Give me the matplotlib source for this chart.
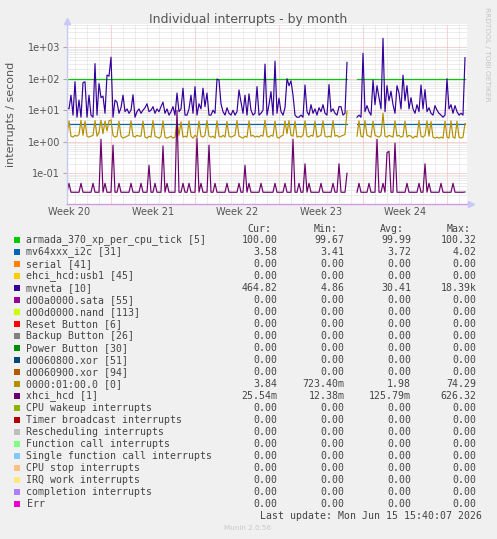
import numpy as np
import matplotlib
matplotlib.use("Agg")
import matplotlib.pyplot as plt
from matplotlib.ticker import FixedLocator, NullFormatter, LogLocator
from matplotlib.patches import Rectangle

nan = np.nan

# ---------------- data (4-hour samples, 6 per day) ----------------
samples_per_day = 6

armada_level = 100.0       # armada_370_xp_per_cpu_tick [5]
i2c_level = 3.58           # mv64xxx_i2c [31]

mvneta = [
    12, 11, 30, 7, 80, 6, 21, 6, 75, 80, 6, 30,
    7, 6, 300, 7, 70, 25, 28, 8, 130, 120, 480, 6,
    21, 18, 8, 12, 30, 9, 11, 8, 10, 31, 6, 9,
    11, 8, 10, 12, 16, 9, 10, 13, 8, 11, 9, 13,
    18, 8, 11, 7, 9, 13, 7, 35, 9, 11, 50, 7,
    7, 11, 30, 8, 56, 7, 16, 11, 50, 13, 35, 7,
    7, 10, 8, 98, 90, 16, 9, 7, 12, 8, 7, 10,
    7, 9, 44, 18, 8, 30, 7, 33, 10, 7, 8, 56,
    7, 8, 10, 290, 7, 15, 39, 7, 360, 8, 24, 9,
    7, 12, 100, 60, 85, 30, 7, 6, 6, 7, 6, 63,
    9, 7, 15, 8, 11, 7, 12, 9, 15, 8, 7, 65,
    9, 11, 8, 7, 13, 13, 7, 8, 330, nan, nan, nan,
    nan, 6, 7, 6, 640, 9, 14, 9, 7, 90, 15, 60,
    25, 11, 1900, 9, 60, 20, 40, 15, 8, 60, 35, 11,
    130, 20, 60, 11, 25, 11, 8, 15, 9, 63, 11, 45,
    9, 12, 8, 7, 14, 10, 8, 7, 6, 7, 100, 11,
    15, 8, 14, 9, 7, 8, 7, 465,
]

pci0 = [
    1.6, 4.6, 1.5, 1.4, 1.6, 1.5, 1.7, 4.8, 1.6, 4.5, 1.5, 1.4,
    1.5, 1.6, 4.7, 1.5, 2.0, 4.8, 1.8, 4.5, 2.2, 4.6, 4.9, 1.6,
    1.4, 1.5, 4.5, 1.5, 1.3, 1.4, 1.5, 1.6, 4.6, 1.5, 1.4, 1.6,
    1.5, 1.5, 4.5, 1.4, 1.3, 1.5, 1.4, 4.7, 1.5, 1.4, 1.3, 1.5,
    4.6, 1.4, 1.3, 1.4, 1.5, 1.3, 1.4, 4.8, 1.6, 4.3, 1.4, 1.5,
    1.4, 4.6, 1.5, 1.3, 1.6, 1.4, 4.5, 1.5, 1.4, 1.6, 4.7, 1.5,
    1.4, 1.5, 1.3, 4.6, 1.5, 1.4, 1.6, 1.4, 4.4, 1.5, 1.4, 1.5,
    1.6, 4.7, 1.5, 1.4, 1.3, 1.5, 1.4, 4.6, 1.5, 1.6, 1.4, 1.5,
    1.4, 1.6, 1.5, 4.8, 1.5, 1.4, 1.6, 1.5, 4.5, 1.4, 1.3, 1.5,
    1.6, 4.6, 1.8, 4.7, 1.6, 1.5, 4.5, 1.4, 1.5, 1.4, 1.6, 4.6,
    1.5, 1.4, 1.6, 1.5, 4.5, 1.4, 1.5, 1.6, 4.6, 1.5, 1.4, 1.5,
    1.4, 4.7, 1.5, 1.6, 1.4, 1.5, 1.6, 1.7, 9.4, nan, nan, nan,
    nan, 1.5, 4.6, 1.5, 1.4, 4.7, 1.6, 1.5, 1.4, 4.5, 1.6, 1.5,
    1.4, 1.6, 8.0, 1.5, 1.4, 1.6, 1.5, 1.4, 4.6, 1.5, 1.6, 1.4,
    1.5, 4.5, 1.4, 1.6, 1.5, 1.3, 1.5, 1.4, 4.7, 1.5, 1.4, 1.6,
    4.6, 1.5, 4.4, 1.4, 1.3, 1.4, 1.3, 1.4, 1.3, 4.5, 1.4, 1.3,
    4.6, 1.4, 1.3, 4.5, 1.4, 1.3, 1.4, 3.84,
]

xhci = [
    .025, .048, .025, .025, .025, .025, .025, .048, .025, .025, .025, .025,
    .025, .048, .025, .025, .025, 1.2, .025, .048, .025, .025, .025, .78,
    .025, .025, .048, .025, .025, .025, .025, .025, .048, .025, .025, .025,
    .025, .048, .025, .025, .025, .18, .025, .025, .048, .025, .025, .025,
    .73, .025, .048, .025, .025, .025, .025, 10, .025, .025, .048, .025,
    .025, .048, .025, .025, .025, 1.3, .025, .048, .025, .025, .025, .78,
    .025, .025, .048, .025, .025, .025, .025, .025, .048, .025, .025, .025,
    .025, .025, .048, .025, .025, .18, .025, .048, .025, .025, .025, .025,
    .025, .048, .025, .025, .025, .025, .025, .025, .048, .025, .025, .025,
    .025, .048, .025, .025, .025, 1.2, .025, .025, .048, .025, .025, .2,
    .025, .048, .025, .025, .025, .025, .025, .048, .025, .025, .025, .025,
    .025, .048, .025, .025, .2, .025, .025, .025, .1, nan, nan, nan,
    nan, .025, .048, .025, .025, .025, .025, .048, .025, .025, .025, 1.2,
    .025, .025, .048, .025, .45, .5, .025, .025, .9, .025, .025, .025,
    .025, .025, .048, .025, .025, .025, .025, .025, .048, .025, .025, .2,
    .025, .048, .025, .025, .025, .025, .025, .048, .025, .025, .025, .025,
    .025, .048, .025, .025, .025, .025, .025, .0255,
]

week_labels = ["Week 20", "Week 21", "Week 22", "Week 23", "Week 24"]
first_week_start = 3.67      # day offset of first Monday (major grid)
first_day_start = 0.67       # day offset of first midnight (minor grid)
x_span_days = 400 / 12

legend_names = [
    "armada_370_xp_per_cpu_tick [5]", "mv64xxx_i2c [31]", "serial [41]",
    "ehci_hcd:usb1 [45]", "mvneta [10]", "d00a0000.sata [55]",
    "d00d0000.nand [113]", "Reset Button [6]", "Backup Button [26]",
    "Power Button [30]", "d0060800.xor [51]", "d0060900.xor [94]",
    "0000:01:00.0 [0]", "xhci_hcd [1]", "CPU wakeup interrupts",
    "Timer broadcast interrupts", "Rescheduling interrupts",
    "Function call interrupts", "Single function call interrupts",
    "CPU stop interrupts", "IRQ work interrupts", "completion interrupts", "Err",
]
legend_colors = [
    "#00CC00", "#0066B3", "#FF8000", "#FFCC00", "#330099", "#990099",
    "#CCFF00", "#FF0000", "#808080", "#008F00", "#00487D", "#B35A00",
    "#B38F00", "#6B006B", "#8FB300", "#B30000", "#BEBEBE", "#80FF80",
    "#80C9FF", "#FFC080", "#FFE680", "#AA80FF", "#EE00CC",
]
z = "0.00"
cur_vals = ["100.00", "3.58", z, z, "464.82", z, z, z, z, z, z, z, "3.84", "25.54m"] + [z] * 9
min_vals = ["99.67", "3.41", z, z, "4.86", z, z, z, z, z, z, z, "723.40m", "12.38m"] + [z] * 9
avg_vals = ["99.99", "3.72", z, z, "30.41", z, z, z, z, z, z, z, "1.98", "125.79m"] + [z] * 9
max_vals = ["100.32", "4.02", z, z, "18.39k", z, z, z, z, z, z, z, "74.29", "626.32"] + [z] * 9

# ---------------- figure ----------------
W, H = 497, 539
fig = plt.figure(figsize=(W / 100, H / 100), dpi=100, facecolor="#F0F0F0")


def fx(px):
    return px / W


def fy(py):
    return 1 - py / H


ax = fig.add_axes([fx(67), fy(204), fx(467) - fx(67), fy(24) - fy(204)])
ax.set_facecolor("white")
ax.set_yscale("log")
ax.set_xlim(0, x_span_days)
ax.set_ylim(0.0106, 5430)

n = len(mvneta)
days = np.arange(n) / samples_per_day
mv = np.array(mvneta, dtype=float)
gap = np.isnan(mv)
arm = np.where(gap, nan, armada_level)
i2c = np.where(gap, nan, i2c_level)

# grid
week_starts = np.arange(first_week_start, x_span_days, 7)
day_starts = np.arange(first_day_start, x_span_days, 1)
ax.xaxis.set_major_locator(FixedLocator(week_starts))
ax.xaxis.set_minor_locator(FixedLocator(day_starts))
ax.xaxis.set_major_formatter(NullFormatter())
ax.yaxis.set_major_locator(LogLocator(base=10, numticks=20))
ax.yaxis.set_minor_locator(LogLocator(base=10, subs=np.arange(2, 10), numticks=20))
ax.yaxis.set_minor_formatter(NullFormatter())
ax.set_yticks([1e-1, 1, 10, 100, 1000])
ax.set_yticklabels(["1e-01", "1e+00", "1e+01", "1e+02", "1e+03"])
ax.grid(which="minor", color="#DADADA", linestyle=(0, (1, 1)), linewidth=0.72)
ax.grid(which="major", color="#F0A8A8", linestyle=(0, (1, 1)), linewidth=0.72)
ax.set_axisbelow(True)
ax.tick_params(axis="x", which="both", length=0)
ax.tick_params(axis="y", which="major", length=3, color="#AAAAAA",
               labelsize=7, labelcolor="#555555", pad=2)
ax.tick_params(axis="y", which="minor", length=0)

for s in ("top", "right"):
    ax.spines[s].set_visible(False)
ax.spines["left"].set_color("#C8C8F0")
ax.spines["bottom"].set_color("#D49AE0")
ax.spines["left"].set_linewidth(1.0)
ax.spines["bottom"].set_linewidth(1.0)
ax.plot([0], [1.015], marker="^", color="#C8C8F8", markersize=4,
        transform=ax.transAxes, clip_on=False)
ax.plot([1.01], [0], marker=">", color="#C8C8F8", markersize=4,
        transform=ax.transAxes, clip_on=False)

lw = 0.85
ax.plot(days, arm, color="#00CC00", lw=lw)
ax.plot(days, i2c, color="#0066B3", lw=lw)
ax.plot(days, mv, color="#330099", lw=lw)
ax.plot(days, pci0, color="#B38F00", lw=lw)
ax.plot(days, xhci, color="#6B006B", lw=lw)

for k, lab in enumerate(week_labels):
    ax.text(week_starts[0] - 3.5 + 7 * k, -0.045, lab, transform=ax.get_xaxis_transform(),
            ha="center", va="center", fontsize=7, color="#555555")

# texts
fig.text(fx(248), fy(19), "Individual interrupts - by month", ha="center", va="center",
         fontsize=9, color="#555555")
fig.text(fx(11), fy(114), "interrupts / second", rotation=90, ha="center", va="center",
         fontsize=8, color="#555555")
fig.text(fx(487), fy(54), "RRDTOOL / TOBI OETIKER", rotation=270, ha="center", va="center",
         fontsize=5.3, color="#C4C4C4")

mono = "DejaVu Sans Mono"
fs = 7.1
tc = "#444444"
fig.text(fx(271.5), fy(229), "Cur:", ha="right", va="center", family=mono, fontsize=fs, color=tc)
fig.text(fx(338), fy(229), "Min:", ha="right", va="center", family=mono, fontsize=fs, color=tc)
fig.text(fx(404), fy(229), "Avg:", ha="right", va="center", family=mono, fontsize=fs, color=tc)
fig.text(fx(471), fy(229), "Max:", ha="right", va="center", family=mono, fontsize=fs, color=tc)

for i, name in enumerate(legend_names):
    yy = 239.7 + 12 * i
    fig.patches.append(Rectangle((fx(14), fy(yy + 3)), fx(6), fy(yy - 3) - fy(yy + 3),
                                 transform=fig.transFigure, facecolor=legend_colors[i],
                                 edgecolor="none"))
    fig.text(fx(26.5), fy(yy), name, ha="left", va="center", family=mono, fontsize=fs, color=tc)
    fig.text(fx(277.7), fy(yy), cur_vals[i], ha="right", va="center", family=mono, fontsize=fs, color=tc)
    fig.text(fx(344.3), fy(yy), min_vals[i], ha="right", va="center", family=mono, fontsize=fs, color=tc)
    fig.text(fx(411), fy(yy), avg_vals[i], ha="right", va="center", family=mono, fontsize=fs, color=tc)
    fig.text(fx(476.7), fy(yy), max_vals[i], ha="right", va="center", family=mono, fontsize=fs, color=tc)

fig.text(fx(482.3), fy(515.7), "Last update: Mon Jun 15 15:40:07 2026", ha="right", va="center",
         family=mono, fontsize=fs, color=tc)
fig.text(fx(248), fy(528.3), "Munin 2.0.56", ha="center", va="center", fontsize=5.2, color="#C8C8C8")

fig.savefig("out.png", dpi=100, facecolor=fig.get_facecolor())
